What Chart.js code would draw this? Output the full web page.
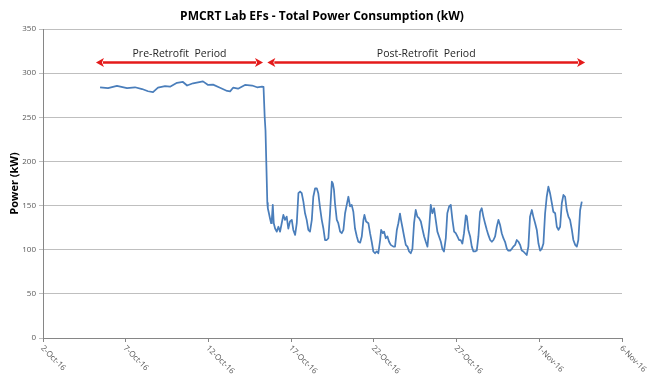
<!DOCTYPE html>
<html>
<head>
<meta charset="utf-8">
<script src="https://cdn.jsdelivr.net/npm/chart.js@4.4.1/dist/chart.umd.min.js"></script>
<style>
  html, body { margin: 0; padding: 0; background: #ffffff; }
  #wrap { width: 650px; height: 374px; }
</style>
</head>
<body>
<div id="wrap"><canvas id="c" width="650" height="374"></canvas></div>
<script>
// ---- Data (day offset from 2-Oct-16, power in kW) ----
const days = [
  3.45, 3.93, 4.47, 5.08, 5.56, 5.99, 6.35, 6.65, 6.95, 7.38, 7.68, 8.10, 8.46, 8.71, 9.07, 9.67, 9.98,
  10.28, 10.70, 11.13, 11.31, 11.49, 11.79, 12.21, 12.64, 12.94, 13.24, 13.33, 13.40, 13.45, 13.56,
  13.59, 13.66, 13.72, 13.79, 13.83, 13.89, 13.95, 14.03, 14.13, 14.23, 14.33, 14.43, 14.53, 14.63,
  14.73, 14.83, 14.93, 15.04, 15.13, 15.24, 15.34, 15.44, 15.54, 15.64, 15.74, 15.84, 15.94, 16.04,
  16.14, 16.25, 16.34, 16.45, 16.55, 16.64, 16.75, 16.85, 16.95, 17.05, 17.15, 17.25, 17.35, 17.46,
  17.52, 17.59, 17.65, 17.76, 17.85, 17.96, 18.06, 18.16, 18.26, 18.36, 18.46, 18.56, 18.66, 18.76,
  18.86, 18.97, 19.06, 19.17, 19.27, 19.37, 19.43, 19.53, 19.67, 19.77, 19.87, 19.97, 20.07, 20.18,
  20.27, 20.38, 20.44, 20.54, 20.62, 20.72, 20.82, 20.92, 21.02, 21.18, 21.28, 21.39, 21.48, 21.58,
  21.64, 21.72, 21.83, 21.93, 22.03, 22.13, 22.23, 22.33, 22.43, 22.53, 22.63, 22.73, 22.84, 22.93,
  23.04, 23.14, 23.24, 23.34, 23.44, 23.54, 23.64, 23.74, 23.84, 23.94, 24.05, 24.14, 24.24, 24.35,
  24.44, 24.55, 24.65, 24.75, 24.85, 24.95, 25.05, 25.15, 25.25, 25.35, 25.45, 25.56, 25.62, 25.71,
  25.82, 25.92, 26.02, 26.12, 26.22, 26.32, 26.42, 26.52, 26.62, 26.72, 26.83, 26.92, 27.03, 27.13,
  27.23, 27.33, 27.43, 27.53, 27.63, 27.73, 27.83, 27.93, 28.04, 28.13, 28.24, 28.34, 28.43, 28.54,
  28.64, 28.74, 28.84, 28.94, 29.04, 29.14, 29.24, 29.34, 29.44, 29.55, 29.64, 29.75, 29.85, 29.95,
  30.05, 30.15, 30.25, 30.35, 30.45, 30.55, 30.65, 30.76, 30.85, 30.96, 31.06, 31.16, 31.26, 31.36,
  31.46, 31.56, 31.66, 31.76, 31.86, 31.97, 32.06, 32.17, 32.27, 32.36, 32.47, 32.57
];
const power = [
  284, 283, 285.5, 283, 284, 282, 279.5, 278.6, 283.5, 285.4, 284.7, 289, 290, 286, 288.5, 290.7, 286.6,
  287, 283.5, 279.8, 279.4, 283.5, 282.4, 286.6, 286, 284, 284.7, 284.5, 250.7, 235, 153,
  147, 141, 135.7, 130, 134, 150.8, 130, 124, 120.5, 126, 120.5, 130, 139.4, 133.8,
  137.5, 124, 132, 133.8, 122.4, 116.8, 130, 164, 165.9, 164, 154.5, 141.3, 133.8, 122.4,
  120.5, 133.8, 160, 169.6, 169.6, 164, 147, 133.8, 124, 111, 111, 113, 141.3, 177,
  175, 167.7, 152.6, 133.8, 130, 120.5, 118.7, 122.4, 141.3, 150.8, 160, 149, 150.8, 143,
  124, 115, 109, 108, 115, 133.8, 139.4, 132, 130, 118.7, 109, 98, 96, 98,
  96, 111, 122.4, 118.7, 120.5, 113, 115, 109, 105.5, 103.5, 103.5, 122.4, 130, 141,
  133.8, 126, 115, 105.5, 103.5, 98, 96, 101, 130, 145, 137.5, 135.7, 132, 124,
  115, 109, 103.5, 124, 150.8, 141.3, 147, 133.8, 120.5, 115, 109, 101, 98, 113,
  141.3, 149, 150.8, 133.8, 120.5, 118.7, 115, 111, 111, 107, 118.7, 139, 137.5, 122.4,
  115, 103.5, 98, 98, 99, 115, 143, 147, 137.5, 130, 122.4, 116.8, 111, 109,
  111, 115, 126, 133.8, 128, 118.7, 113, 109, 101, 99, 99, 101, 103.5, 105.5,
  111, 109, 105.5, 99, 98, 96, 94, 103.5, 137.5, 145, 137.5, 130, 122.4, 107,
  99, 101, 107, 141, 160, 171.5, 164, 152.6, 143, 141.3, 126, 122.4, 126, 152.6,
  162, 160, 145, 137.5, 133.8, 122.4, 111, 105.5, 103.5, 111, 145, 154.5
];
const tickLabels = ['2-Oct-16', '7-Oct-16', '12-Oct-16', '17-Oct-16', '22-Oct-16', '27-Oct-16', '1-Nov-16', '6-Nov-16'];
const yTicks = [0, 50, 100, 150, 200, 250, 300, 350];
const periodNames = ['Pre-Retrofit  Period', 'Post-Retrofit  Period'];
const periodStart = [3.2, 13.56];
const periodEnd = [13.3, 32.77];
const periodLevel = 312;

const FONT = "'Open Sans', 'Liberation Sans', sans-serif";

const points = days.map((d, i) => ({ x: d, y: power[i] }));

const overlay = {
  id: 'overlay',
  afterDraw(chart) {
    const ctx = chart.ctx;
    const xs = chart.scales.x, ys = chart.scales.y;
    ctx.save();
    // title
    ctx.fillStyle = '#000000';
    ctx.font = "bold 12px " + FONT;
    ctx.textAlign = 'center';
    ctx.textBaseline = 'middle';
    ctx.fillText('PMCRT Lab EFs - Total Power Consumption (kW)', 322, 17);
    // rotated x labels
    ctx.fillStyle = '#595959';
    ctx.font = "8px " + FONT;
    ctx.textAlign = 'left';
    ctx.textBaseline = 'middle';
    tickLabels.forEach((lab, i) => {
      const px = xs.getPixelForValue(i * 5);
      ctx.save();
      ctx.translate(px - 1, ys.bottom + 9);
      ctx.rotate(Math.PI / 4);
      ctx.fillText(lab, 0, 0);
      ctx.restore();
    });
    // period arrows
    const py = ys.getPixelForValue(periodLevel);
    ctx.strokeStyle = '#e41a1a';
    ctx.fillStyle = '#e41a1a';
    ctx.lineWidth = 2.5;
    periodNames.forEach((name, i) => {
      const x1 = xs.getPixelForValue(periodStart[i]);
      const x2 = xs.getPixelForValue(periodEnd[i]);
      const ah = 8, aw = 4.5;
      ctx.beginPath();
      ctx.moveTo(x1 + ah - 1, py);
      ctx.lineTo(x2 - ah + 1, py);
      ctx.stroke();
      ctx.beginPath();
      ctx.moveTo(x1, py); ctx.lineTo(x1 + ah, py - aw); ctx.lineTo(x1 + ah - 2, py); ctx.lineTo(x1 + ah, py + aw); ctx.closePath();
      ctx.fill();
      ctx.beginPath();
      ctx.moveTo(x2, py); ctx.lineTo(x2 - ah, py - aw); ctx.lineTo(x2 - ah + 2, py); ctx.lineTo(x2 - ah, py + aw); ctx.closePath();
      ctx.fill();
      ctx.save();
      ctx.fillStyle = '#262626';
      ctx.font = "10.5px " + FONT;
      ctx.textAlign = 'center';
      ctx.textBaseline = 'middle';
      ctx.fillText(name, (x1 + x2) / 2, py - 9);
      ctx.restore();
    });
    ctx.restore();
  }
};

new Chart(document.getElementById('c'), {
  type: 'line',
  data: {
    datasets: [{
      data: points,
      borderColor: '#4a7ebb',
      borderWidth: 1.75,
      pointRadius: 0,
      tension: 0,
      fill: false,
      borderJoinStyle: 'round'
    }]
  },
  options: {
    responsive: false,
    animation: false,
    devicePixelRatio: 1,
    parsing: true,
    layout: { padding: { top: 29, right: 28, left: 0, bottom: 0 } },
    plugins: { legend: { display: false }, title: { display: false }, tooltip: { enabled: false } },
    scales: {
      x: {
        type: 'linear',
        min: 0, max: 35,
        afterBuildTicks(s) { s.ticks = tickLabels.map((_, i) => ({ value: i * 5 })); },
        ticks: { display: false },
        grid: { drawOnChartArea: false, drawTicks: true, tickLength: 4, color: '#868686' },
        border: { color: '#868686' },
        afterFit(s) { s.height = 36; }
      },
      y: {
        min: 0, max: 350,
        afterBuildTicks(s) { s.ticks = yTicks.map(v => ({ value: v })); },
        ticks: { color: '#595959', font: { size: 8, family: FONT }, padding: 3 },
        grid: { color: '#bfbfbf', tickLength: 4, lineWidth: 1 },
        border: { color: '#868686' },
        title: { display: true, text: 'Power (kW)', color: '#000000', font: { size: 11, weight: 'bold', family: FONT }, padding: { top: 8, bottom: 0 } },
        afterFit(s) { s.width = 43; }
      }
    }
  },
  plugins: [overlay]
});
</script>
</body>
</html>
